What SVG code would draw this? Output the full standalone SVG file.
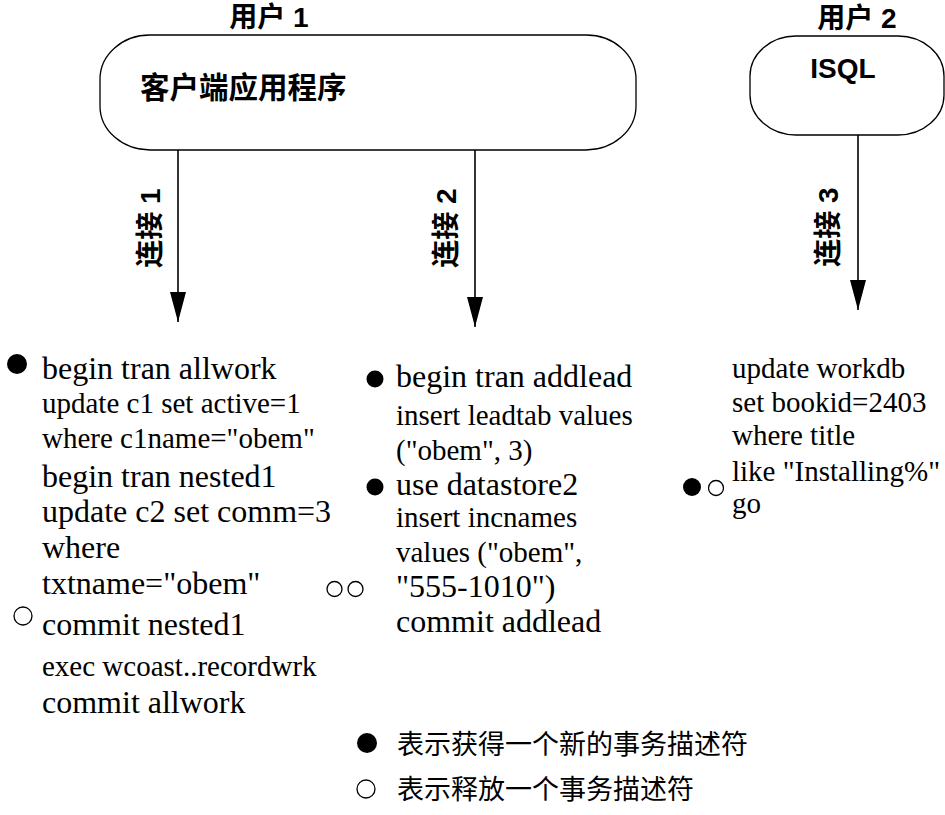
<svg xmlns="http://www.w3.org/2000/svg" width="945" height="815" viewBox="0 0 945 815">
<style>
.box{fill:#fff;stroke:#000;stroke-width:1.3}
.lbl{font-family:"Liberation Sans","Noto Sans CJK SC",sans-serif;font-weight:bold;font-size:28px;fill:#000}
.big{font-size:29.5px}
.code{font-family:"Liberation Serif",serif;fill:#000}
.s{font-size:29px}
.b{font-size:32px}
.leg{font-family:"Liberation Serif","Noto Sans CJK SC",serif;font-size:27px;fill:#000}
.conn{stroke:#000;stroke-width:1.6;fill:none}
.on{fill:#000}
.off{fill:#fff;stroke:#000;stroke-width:1.3}
</style>
<defs>
<marker id="arr" markerUnits="userSpaceOnUse" markerWidth="30" markerHeight="16" refX="30" refY="8" orient="auto">
<path d="M0,0 L30,8 L0,16 z" fill="#000"/>
</marker>
</defs>

<g id="user1">
<text class="lbl" x="269" y="27" text-anchor="middle">用户 1</text>
<rect class="box" x="100" y="35" width="536" height="115" rx="50" ry="44"/>
<text class="lbl big" x="140" y="98">客户端应用程序</text>
</g>

<g id="user2">
<text class="lbl" x="857" y="28" text-anchor="middle">用户 2</text>
<rect class="box" x="750" y="36" width="194" height="99" rx="46" ry="40"/>
<text class="lbl" x="843" y="78" text-anchor="middle">ISQL</text>
</g>

<g id="connectors">
<line class="conn" x1="178" y1="150" x2="178" y2="322" marker-end="url(#arr)"/>
<line class="conn" x1="475" y1="150" x2="475" y2="327" marker-end="url(#arr)"/>
<line class="conn" x1="858" y1="135" x2="858" y2="310" marker-end="url(#arr)"/>
<text class="lbl" transform="translate(150,228) rotate(-90)" x="0" y="10" text-anchor="middle">连接 1</text>
<text class="lbl" transform="translate(446,228) rotate(-90)" x="0" y="10" text-anchor="middle">连接 2</text>
<text class="lbl" transform="translate(828,227) rotate(-90)" x="0" y="10" text-anchor="middle">连接 3</text>
</g>

<g id="conn1-text">
<circle class="on" cx="17" cy="364" r="10"/>
<circle class="off" cx="23" cy="616" r="9"/>
<text class="code b" x="42" y="379">begin tran allwork</text>
<text class="code s" x="42" y="413">update c1 set active=1</text>
<text class="code s" x="42" y="448">where c1name="obem"</text>
<text class="code b" x="42" y="487">begin tran nested1</text>
<text class="code b" x="42" y="522">update c2 set comm=3</text>
<text class="code b" x="42" y="558">where</text>
<text class="code b" x="42" y="594">txtname="obem"</text>
<text class="code b" x="42" y="635">commit nested1</text>
<text class="code s" x="42" y="676">exec wcoast..recordwrk</text>
<text class="code b" x="42" y="713">commit allwork</text>
</g>

<g id="conn2-text">
<circle class="on" cx="375" cy="379" r="8.5"/>
<circle class="on" cx="375" cy="487" r="8.5"/>
<circle class="off" cx="334.5" cy="589" r="7.5"/>
<circle class="off" cx="355.5" cy="589" r="7.5"/>
<text class="code b" x="396" y="387">begin tran addlead</text>
<text class="code s" x="396" y="425">insert leadtab values</text>
<text class="code s" x="396" y="460">("obem", 3)</text>
<text class="code b" x="396" y="495">use datastore2</text>
<text class="code s" x="396" y="527">insert incnames</text>
<text class="code s" x="396" y="562">values ("obem",</text>
<text class="code b" x="396" y="597">"555-1010")</text>
<text class="code b" x="396" y="632">commit addlead</text>
</g>

<g id="conn3-text">
<circle class="on" cx="692" cy="487" r="9"/>
<circle class="off" cx="716" cy="488" r="7.5"/>
<text class="code s" x="732" y="378">update workdb</text>
<text class="code s" x="732" y="412">set bookid=2403</text>
<text class="code s" x="732" y="445">where title</text>
<text class="code s" x="732" y="481">like "Installing%"</text>
<text class="code s" x="732" y="513">go</text>
</g>

<g id="legend">
<circle class="on" cx="367" cy="743" r="10"/>
<text class="leg" x="397" y="754">表示获得一个新的事务描述符</text>
<circle class="off" cx="366" cy="789" r="9"/>
<text class="leg" x="397" y="799">表示释放一个事务描述符</text>
</g>
</svg>
